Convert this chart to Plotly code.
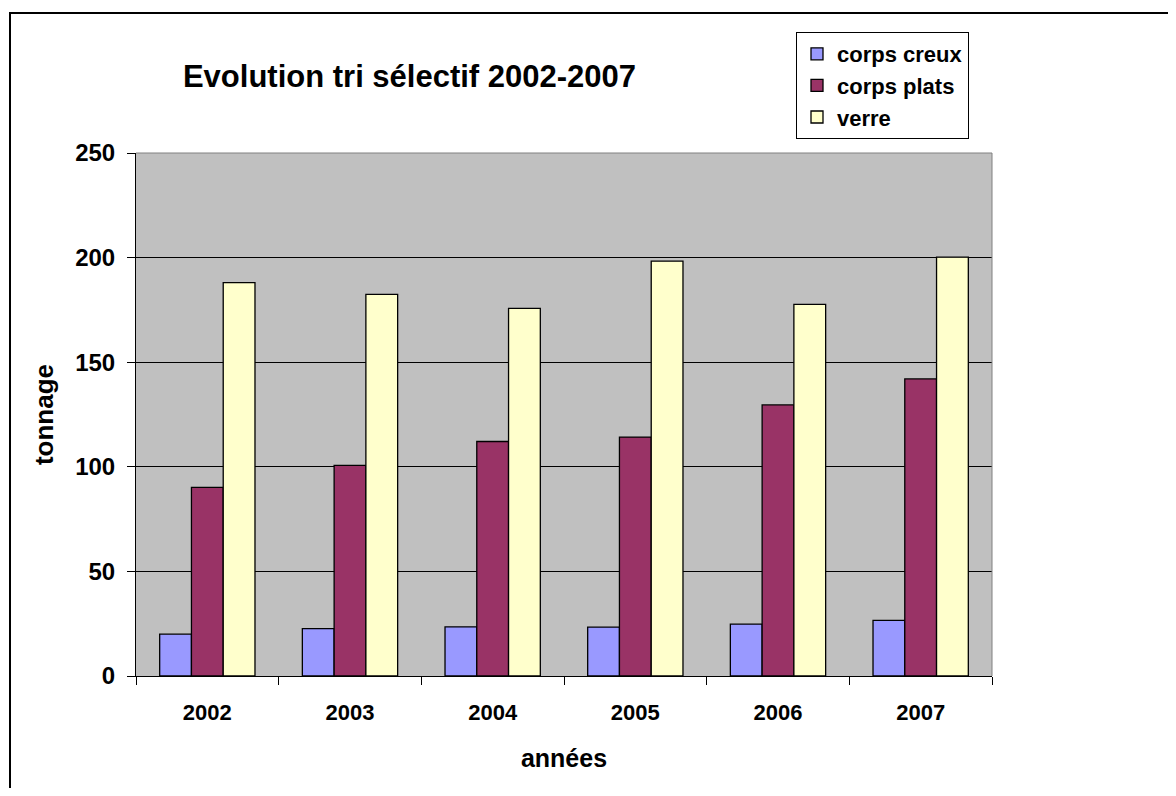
import plotly.graph_objects as go

years = ["2002", "2003", "2004", "2005", "2006", "2007"]
corps_creux = [20, 22.6, 23.5, 23.4, 24.8, 26.6]
corps_plats = [90.2, 100.7, 112.1, 114.2, 129.6, 142]
verre = [188, 182.4, 175.7, 198.3, 177.6, 200.2]
series_names = ["corps creux", "corps plats", "verre"]
y_ticks = [0, 50, 100, 150, 200, 250]

colors = ["#9999FF", "#993366", "#FFFFCC"]
FONT = "Liberation Sans, Arial, sans-serif"

fig = go.Figure()
for name, vals, col in zip(series_names, [corps_creux, corps_plats, verre], colors):
    fig.add_trace(go.Bar(
        x=years, y=vals, name=name,
        marker=dict(color=col, line=dict(color="black", width=1.3)),
    ))

# page has an 8px body margin; work in page pixels and offset
OFF = 8
W, H = 1160, 780
L = 136 - OFF
T = 153 - OFF
pw, ph = 856, 523
R = W - L - pw
B = H - T - ph

def px_x(p):
    return (p - OFF - L) / pw

def px_y(p):
    return (T + ph - (p - OFF)) / ph

fig.update_layout(
    width=W, height=H,
    margin=dict(l=L, r=R, t=T, b=B, autoexpand=False),
    paper_bgcolor="white",
    plot_bgcolor="#C0C0C0",
    barmode="group",
    bargap=0.332,
    bargroupgap=0,
    font=dict(family=FONT, color="black"),
    title=dict(
        text="Evolution tri sélectif 2002-2007",
        font=dict(family=FONT, size=31, weight="bold", color="black"),
        x=(409.5 - OFF) / W, xanchor="center",
        y=1 - (76 - OFF) / H, yanchor="middle",
    ),
    legend=dict(
        x=px_x(796), y=px_y(32), xanchor="left", yanchor="top",
        bgcolor="white", bordercolor="black", borderwidth=1,
        font=dict(family=FONT, size=22, weight="bold", color="black"),
        traceorder="normal",
    ),
    xaxis=dict(
        type="category",
        showline=True, linecolor="black", linewidth=1,
        ticks="outside", ticklen=8, tickcolor="black", tickson="boundaries",
        ticklabelstandoff=17,
        tickfont=dict(family=FONT, size=22, weight="bold", color="black"),
        showgrid=False,
        title=dict(text="années", standoff=25,
                   font=dict(family=FONT, size=25, weight="bold", color="black")),
    ),
    yaxis=dict(
        range=[0, 250],
        tickvals=y_ticks,
        showline=True, linecolor="black", linewidth=1,
        ticks="outside", ticklen=8, tickcolor="black",
        ticklabelstandoff=7,
        tickfont=dict(family=FONT, size=24, weight="bold", color="black"),
        showgrid=True, gridcolor="black", gridwidth=1,
        zeroline=False,
        title=dict(text="tonnage", standoff=14,
                   font=dict(family=FONT, size=26, weight="bold", color="black")),
    ),
    shapes=[
        dict(type="line", xref="paper", yref="paper", x0=0, x1=1, y0=1, y1=1,
             line=dict(color="#808080", width=1)),
        dict(type="line", xref="paper", yref="paper", x0=1, x1=1, y0=0, y1=1,
             line=dict(color="#808080", width=1)),
        dict(type="rect", xref="paper", yref="paper",
             x0=px_x(10), x1=px_x(1200), y0=px_y(820), y1=px_y(13),
             line=dict(color="black", width=2), layer="above"),
    ],
)

fig.write_html("out.html")
